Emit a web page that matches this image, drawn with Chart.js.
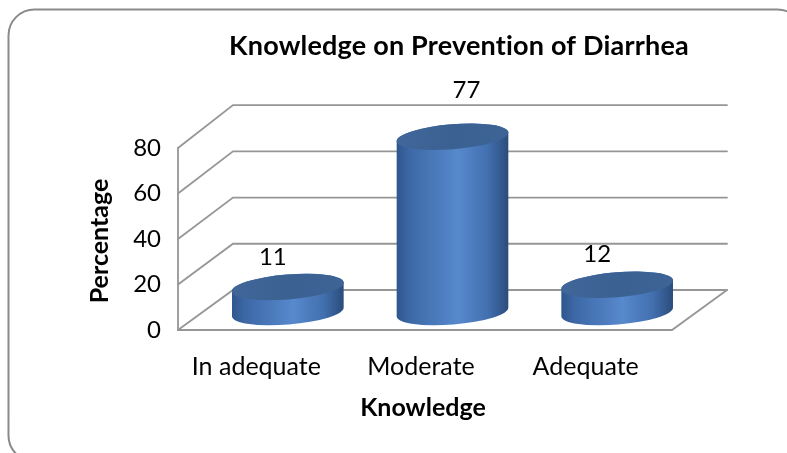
<!DOCTYPE html>
<html>
<head>
<meta charset="utf-8">
<script src="https://cdn.jsdelivr.net/npm/chart.js@4.4.1/dist/chart.umd.min.js"></script>
<style>
  html, body { margin: 0; padding: 0; background: #fff; }
  #wrap { width: 787px; height: 453px; }
</style>
</head>
<body>
<div id="wrap"><canvas id="knowChart" width="787" height="453"></canvas></div>
<script>
// === Datos ===
const categories = ['In adequate', 'Moderate', 'Adequate'];
const percentages = [11, 77, 12];
const yTicks = [0, 20, 40, 60, 80];
const chartTitle = 'Knowledge on Prevention of Diarrhea';
const xTitle = 'Knowledge';
const yTitle = 'Percentage';

const FONT = 'Lato, "Open Sans", sans-serif';

// profundidad del efecto 3D
const DEPTH_X = 55;
const DEPTH_Y = -40;
const BACK_STRETCH = 1.016;
// ajuste fino de las etiquetas de valor
const labelNudge = [-15, 14, -20];

// === Marco redondeado ===
const framePlugin = {
  id: 'frame',
  beforeDraw(chart) {
    const c = chart.ctx;
    c.save();
    c.fillStyle = '#fff';
    c.fillRect(0, 0, chart.width, chart.height);
    c.strokeStyle = '#8a8a8a';
    c.lineWidth = 2;
    c.beginPath();
    c.roundRect(8.5, 9.5, 795, 452, 26);
    c.stroke();
    c.restore();
  }
};

// === Paredes y piso 3D ===
const wallsPlugin = {
  id: 'walls',
  beforeDatasetsDraw(chart) {
    const c = chart.ctx;
    const { left, right } = chart.chartArea;
    const y = chart.scales.y;
    const backY = v => y.getPixelForValue(v * BACK_STRETCH) + DEPTH_Y;
    c.save();
    c.strokeStyle = '#969696';
    c.lineWidth = 1.8;
    c.lineCap = 'round';
    yTicks.forEach(v => {
      c.beginPath();
      c.moveTo(left, y.getPixelForValue(v));
      c.lineTo(left + DEPTH_X, backY(v));
      c.lineTo(right + DEPTH_X, backY(v));
      c.stroke();
    });
    // borde frontal de la pared izquierda
    c.beginPath();
    c.moveTo(left, y.getPixelForValue(yTicks[yTicks.length - 1]));
    c.lineTo(left, y.getPixelForValue(0));
    c.stroke();
    // piso
    c.beginPath();
    c.moveTo(left, y.getPixelForValue(0));
    c.lineTo(right, y.getPixelForValue(0));
    c.lineTo(right + DEPTH_X, backY(0));
    c.stroke();
    c.restore();
  }
};

// === Cilindros ===
const cylinderPlugin = {
  id: 'cylinders',
  afterDatasetsDraw(chart) {
    const c = chart.ctx;
    const x = chart.scales.x;
    const y = chart.scales.y;
    const rx = 56, ry = 12.5, rot = -0.08;
    const shift = DEPTH_X / 2, lift = -18;
    percentages.forEach((v, i) => {
      const cx = x.getPixelForValue(i) + shift;
      const by = y.getPixelForValue(0) + lift;
      const ty = y.getPixelForValue(v) + lift;

      const grad = c.createLinearGradient(cx - rx, 0, cx + rx, 0);
      grad.addColorStop(0, '#2e568e');
      grad.addColorStop(0.12, '#3d68a6');
      grad.addColorStop(0.55, '#5789cd');
      grad.addColorStop(0.82, '#426fae');
      grad.addColorStop(1, '#2b4c7b');

      c.save();
      c.beginPath();
      c.ellipse(cx, by, rx, ry, rot, 0, Math.PI);
      c.ellipse(cx, ty, rx, ry, rot, Math.PI, Math.PI * 2);
      c.closePath();
      c.fillStyle = grad;
      c.fill();

      const capGrad = c.createLinearGradient(cx - rx, 0, cx + rx, 0);
      capGrad.addColorStop(0, '#41679a');
      capGrad.addColorStop(0.5, '#3b6192');
      capGrad.addColorStop(1, '#3e6496');
      c.beginPath();
      c.ellipse(cx, ty, rx, ry, rot, 0, Math.PI * 2);
      c.fillStyle = capGrad;
      c.fill();
      c.restore();
    });
  }
};

// === Textos ===
const textPlugin = {
  id: 'texts',
  afterDraw(chart) {
    const c = chart.ctx;
    const x = chart.scales.x;
    const y = chart.scales.y;
    const { left } = chart.chartArea;
    c.save();
    c.fillStyle = '#000';
    c.textBaseline = 'middle';
    c.letterSpacing = '0.2px';

    // título
    c.font = 'bold 27px ' + FONT;
    c.textAlign = 'center';
    c.fillText(chartTitle, 459, 46);

    // marcas del eje y
    c.letterSpacing = '0px';
    c.font = '24px ' + FONT;
    c.textAlign = 'right';
    yTicks.forEach(v => c.fillText(String(v), left - 17, y.getPixelForValue(v)));

    // categorías
    c.textAlign = 'center';
    c.font = '25px ' + FONT;
    categories.forEach((cat, i) => c.fillText(cat, x.getPixelForValue(i) - 4, 367));

    // valores
    c.font = '24px ' + FONT;
    percentages.forEach((v, i) => {
      const px = x.getPixelForValue(i) + DEPTH_X / 2 + labelNudge[i];
      const py = y.getPixelForValue(v * 1.11) - 45;
      c.fillText(String(v), px, py);
    });

    // títulos de ejes
    c.font = 'bold 25px ' + FONT;
    c.fillText(xTitle, 423, 408);
    c.translate(100, 241);
    c.rotate(-Math.PI / 2);
    c.fillText(yTitle, 0, 0);
    c.restore();
  }
};

new Chart(document.getElementById('knowChart'), {
  type: 'bar',
  data: {
    labels: categories,
    datasets: [{
      label: yTitle,
      data: percentages,
      backgroundColor: 'rgba(0,0,0,0)',
      borderWidth: 0
    }]
  },
  options: {
    responsive: false,
    animation: false,
    layout: { padding: { left: 178, right: 115, top: 148, bottom: 123 } },
    scales: {
      x: { display: false },
      y: { display: false, min: 0, max: 80 }
    },
    plugins: {
      legend: { display: false },
      tooltip: { enabled: false },
      title: { display: false }
    }
  },
  plugins: [framePlugin, wallsPlugin, cylinderPlugin, textPlugin]
});
</script>
</body>
</html>
